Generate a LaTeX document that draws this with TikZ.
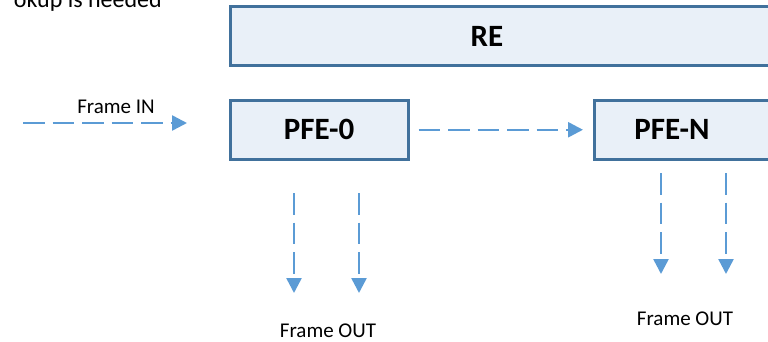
\documentclass[tikz,border=0pt]{standalone}
\usepackage{fontspec}
\setmainfont{Carlito}
\usetikzlibrary{arrows.meta}
\definecolor{flow}{HTML}{5B9BD5}
\definecolor{boxfill}{HTML}{E9F0F8}
\definecolor{boxline}{HTML}{41719C}

\begin{document}
\begin{tikzpicture}[x=1pt,y=-1pt,
  block/.style={draw=boxline, fill=boxfill, line width=2.5pt, inner sep=0pt, anchor=north west},
  flowline/.style={draw=flow, line width=2.5pt, dash pattern=on 21.7pt off 7.8pt,
                   -{Triangle[width=15pt,length=15pt]}},
  blabel/.style={font=\fontsize{31}{36}\selectfont\bfseries, inner sep=0pt},
  flabel/.style={font=\fontsize{21}{25}\selectfont, inner sep=0pt, anchor=base}]
\useasboundingbox (0,0) rectangle (768,341);
\clip (0,0) rectangle (768,341);

% note at the top left
\node[font=\fontsize{24}{28}\selectfont, inner sep=0pt, anchor=base east] (note) at (162,7) {okup is needed};

% blocks
\node[block, minimum width=551pt, minimum height=59pt] (re) at (229,5) {};
\node[block, minimum width=178pt, minimum height=59pt] (pfe0) at (229,99) {};
\node[block, minimum width=200pt, minimum height=59pt] (pfen) at (593,99) {};

\node[blabel] (relabel) at (487,36) {RE};
\node[blabel] (pfe0label) at (319,129) {PFE-0};
\node[blabel] (pfenlabel) at (672,129) {PFE-N};

% frame input
\coordinate (inS) at (23,123);
\coordinate (inE) at (187,123);
\draw[flowline] (inS) -- (inE);
\node[flabel] (inlabel) at (116,113) {Frame IN};

% hand-over between engines
\draw[flowline, shorten <=9pt, shorten >=10pt] (pfe0) -- (pfen);

% frame outputs below PFE-0
\coordinate (a1s) at (294,193);
\coordinate (a1e) at (294,293);
\coordinate (a2s) at (359,193);
\coordinate (a2e) at (359,293);
\draw[flowline] (a1s) -- (a1e);
\draw[flowline] (a2s) -- (a2e);
\node[flabel] (out0) at (328,337) {Frame OUT};

% frame outputs below PFE-N
\coordinate (b1s) at (661,173);
\coordinate (b1e) at (661,274);
\coordinate (b2s) at (726,173);
\coordinate (b2e) at (726,274);
\draw[flowline] (b1s) -- (b1e);
\draw[flowline] (b2s) -- (b2e);
\node[flabel] (outn) at (685,325) {Frame OUT};
\end{tikzpicture}
\end{document}
